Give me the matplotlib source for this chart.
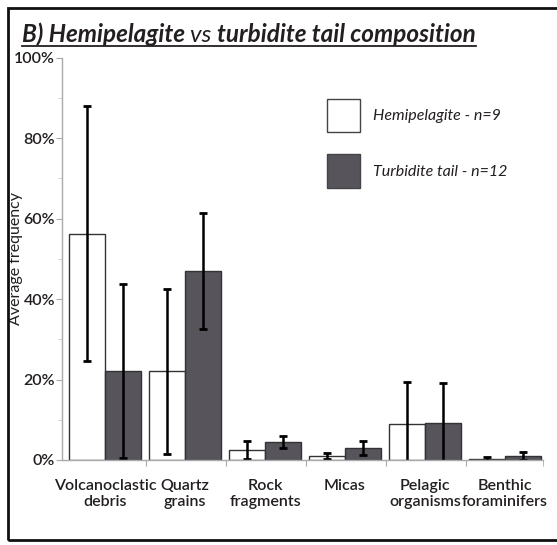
import numpy as np
import matplotlib.pyplot as plt
from matplotlib.patches import Rectangle

plt.rcParams['font.family'] = ['Lato', 'DejaVu Sans']

categories = ['Volcanoclastic\ndebris', 'Quartz\ngrains', 'Rock\nfragments',
              'Micas', 'Pelagic\norganisms', 'Benthic\nforaminifers']
hemi_mean = [56.3, 22.0, 2.5, 1.0, 9.0, 0.3]
hemi_err = [31.7, 20.5, 2.2, 0.8, 10.5, 0.5]
turb_mean = [22.1, 47.0, 4.5, 3.0, 9.3, 1.0]
turb_err = [21.6, 14.5, 1.5, 1.8, 9.8, 0.9]
hemi_label = 'Hemipelagite - n=9'
turb_label = 'Turbidite tail - n=12'

txt = '#231f20'
dark = '#57545b'

fig = plt.figure(figsize=(5.57, 5.45), dpi=100)
ax = fig.add_axes([0.1113, 0.156, 0.864, 0.738])

x = np.arange(len(categories))
w = 0.45
ax.bar(x - w / 2, hemi_mean, w, color='white', edgecolor='#333333', linewidth=1)
ax.bar(x + w / 2, turb_mean, w, color=dark, edgecolor='#333333', linewidth=1)
ax.errorbar(x - w / 2, hemi_mean, yerr=hemi_err, fmt='none', ecolor='black',
            elinewidth=1.8, capsize=3, capthick=2)
ax.errorbar(x + w / 2, turb_mean, yerr=turb_err, fmt='none', ecolor='black',
            elinewidth=1.8, capsize=3, capthick=2)

ax.set_xlim(-0.54, 5.48)
ax.set_ylim(0, 100)
ax.set_yticks(np.arange(0, 101, 20))
ax.set_yticklabels(['%d%%' % v for v in range(0, 101, 20)], fontsize=11.5,
                   color=txt, weight='semibold')
ax.set_yticks(np.arange(10, 100, 20), minor=True)
ax.set_xticks(x[:-1] + 0.5 + 0.01)
ax.set_xticks([5.48], minor=True)
ax.tick_params(axis='x', which='both', length=4, color='#aaaaaa', labelbottom=False)
ax.tick_params(axis='y', which='major', length=4, color='#aaaaaa', pad=1)
ax.tick_params(axis='y', which='minor', length=3, color='#cccccc')
for s in ['top', 'right']:
    ax.spines[s].set_visible(False)
for s in ['left', 'bottom']:
    ax.spines[s].set_color('#aaaaaa')
    ax.spines[s].set_linewidth(1)

for i, lab in enumerate(categories):
    ax.text(x[i], -4.8, lab, ha='center', va='top', fontsize=11.5,
            color=txt, linespacing=1.2, weight='semibold')

ax.set_ylabel('Average frequency', fontsize=11.5, color=txt)
ax.yaxis.set_label_coords(-0.081, 0.5)

# legend drawn by hand as boxes and labels
ax.add_patch(Rectangle((2.78, 81.6), 0.41, 8.1, facecolor='white',
                       edgecolor='#444444', lw=1, clip_on=False))
ax.add_patch(Rectangle((2.78, 67.5), 0.41, 8.5, facecolor=dark,
                       edgecolor='#444444', lw=1, clip_on=False))
ax.text(3.35, 85.6, hemi_label, fontsize=11.5, style='italic', va='center', color=txt)
ax.text(3.35, 71.5, turb_label, fontsize=11.5, style='italic', va='center', color=txt)

# title with underline
ty = 1 - 42 / 545
t1 = fig.text(22 / 557, ty, 'B) Hemipelagite ', fontsize=17.5,
              weight='bold', style='italic', color=txt, va='baseline')
fig.canvas.draw()
r = fig.canvas.get_renderer()
bb = t1.get_window_extent(r)
t2 = fig.text(bb.x1 / 557, ty, 'vs ', fontsize=17.5,
              style='italic', color=txt, va='baseline')
bb2 = t2.get_window_extent(r)
t3 = fig.text(bb2.x1 / 557, ty, 'turbidite tail composition', fontsize=17.5,
              weight='bold', style='italic', color=txt, va='baseline')
bb3 = t3.get_window_extent(r)
fig.add_artist(plt.Line2D([bb.x0 / 557, bb3.x1 / 557], [1 - 45.5 / 545, 1 - 45.5 / 545],
                          color=txt, lw=1.3))

# outer frame
fig.add_artist(Rectangle((8 / 557, 5 / 545), 1.2, 532 / 545, fill=False,
                         edgecolor='#111111', lw=2, transform=fig.transFigure))

fig.savefig('out.png', dpi=100)
